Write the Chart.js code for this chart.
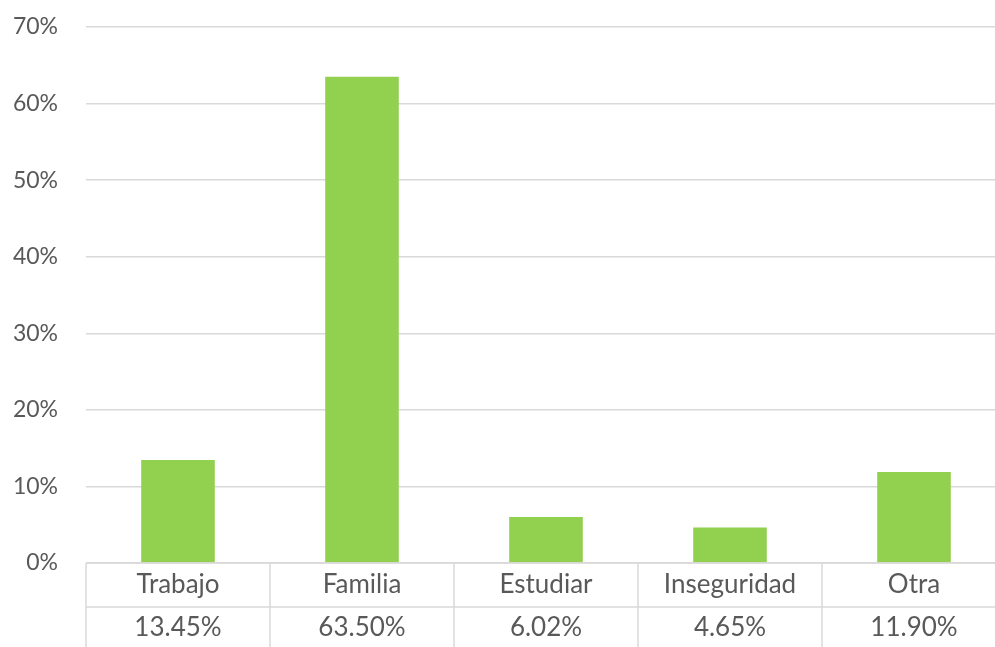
<!DOCTYPE html>
<html>
<head>
<meta charset="utf-8">
<script src="https://cdn.jsdelivr.net/npm/chart.js@4"></script>
<style>
  html, body { margin: 0; padding: 0; background: #fff; overflow: hidden; }
  #wrap { width: 1006px; height: 647px; }
</style>
</head>
<body>
<div id="wrap"><canvas id="c"></canvas></div>
<script>
const categories = ["Trabajo", "Familia", "Estudiar", "Inseguridad", "Otra"];
const values = [13.45, 63.50, 6.02, 4.65, 11.90];
const valueLabels = ["13.45%", "63.50%", "6.02%", "4.65%", "11.90%"];
const yTicks = [0, 10, 20, 30, 40, 50, 60, 70];

const FONT = "Lato, 'Open Sans', sans-serif";
const TEXT = "#595959";
const LINE = "#d9d9d9";

const tablePlugin = {
  id: "dataTable",
  afterDraw(chart) {
    const ctx = chart.ctx;
    const x = chart.scales.x;
    const area = chart.chartArea;
    const top = area.bottom;
    const mid = top + 44;
    const bottom = chart.height + 10;
    const n = categories.length;
    const half = (x.getPixelForValue(1) - x.getPixelForValue(0)) / 2;
    ctx.save();
    ctx.strokeStyle = LINE;
    ctx.lineWidth = 1.5;
    ctx.beginPath();
    ctx.moveTo(area.left, top); ctx.lineTo(area.right + 2, top);
    ctx.moveTo(area.left, mid); ctx.lineTo(area.right + 2, mid);
    for (let i = 0; i <= n; i++) {
      const px = x.getPixelForValue(i) - half;
      ctx.moveTo(px, top); ctx.lineTo(px, bottom);
    }
    ctx.stroke();
    ctx.fillStyle = TEXT;
    ctx.font = "26px " + FONT;
    ctx.textAlign = "center";
    ctx.textBaseline = "middle";
    for (let i = 0; i < n; i++) {
      const cx = x.getPixelForValue(i);
      ctx.fillText(categories[i], cx, top + 22);
      ctx.fillText(valueLabels[i], cx, mid + 21);
    }
    ctx.restore();
  }
};

new Chart(document.getElementById("c"), {
  type: "bar",
  data: {
    labels: categories,
    datasets: [{
      data: values,
      backgroundColor: "#92D050",
      borderWidth: 0,
      barPercentage: 1,
      categoryPercentage: 0.4
    }]
  },
  options: {
    responsive: true,
    maintainAspectRatio: false,
    animation: false,
    layout: { padding: { top: 27, bottom: 84, left: 0, right: 0 } },
    plugins: { legend: { display: false }, tooltip: { enabled: false } },
    scales: {
      x: { display: false },
      y: {
        min: 0, max: 70,
        afterBuildTicks(scale) { scale.ticks = yTicks.map(v => ({ value: v })); },
        afterFit(scale) { scale.width = 86; scale.paddingTop = 0; scale.paddingBottom = 0; },
        border: { display: false },
        grid: { color: LINE, lineWidth: 1.5, drawTicks: false },
        ticks: {
          padding: 28,
          color: TEXT,
          font: { family: FONT, size: 23 },
          callback: v => v + "%"
        }
      }
    }
  },
  plugins: [tablePlugin]
});
</script>
</body>
</html>
